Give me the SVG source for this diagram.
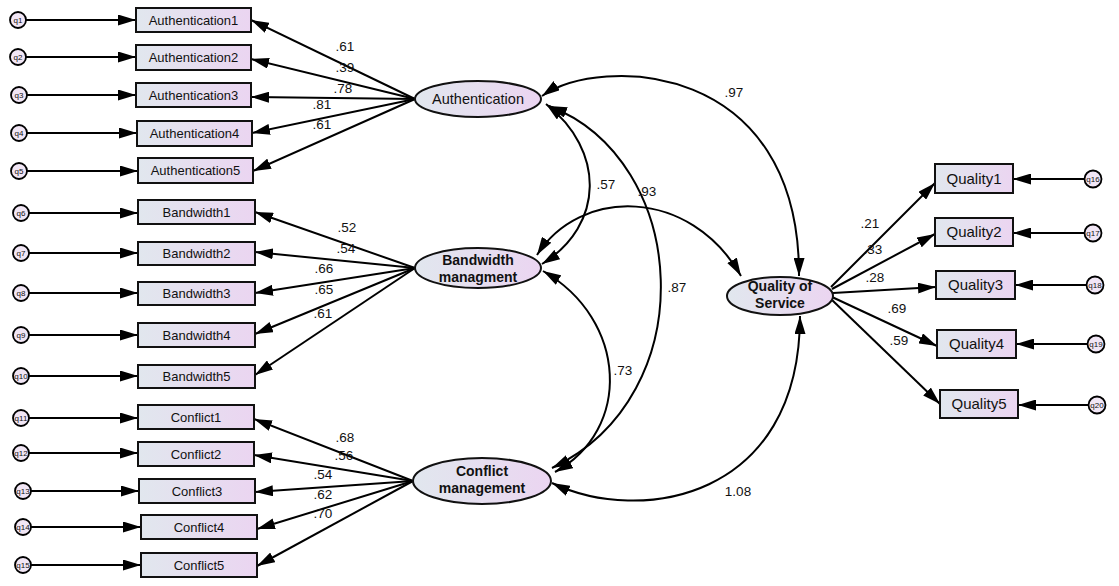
<svg xmlns="http://www.w3.org/2000/svg" width="1119" height="586" viewBox="0 0 1119 586">
<defs>
<linearGradient id="g" x1="0" y1="0" x2="1" y2="0">
<stop offset="0" stop-color="#e1e7ee"/>
<stop offset="1" stop-color="#ebd5f1"/>
</linearGradient>
<marker id="ah" viewBox="0 0 18 11" refX="18" refY="5.5" markerWidth="18" markerHeight="11" markerUnits="userSpaceOnUse" orient="auto-start-reverse">
<path d="M0,0 L18,5.5 L0,11 z" fill="#000"/>
</marker>
<style>
.box{fill:url(#g);stroke:#111;stroke-width:2}
.ell{fill:url(#g);stroke:#111;stroke-width:2}
.err{fill:#f1e6f5;stroke:#000;stroke-width:1.8}
.et{font-family:"Liberation Sans",Arial,sans-serif;font-size:8px;fill:#111;text-anchor:middle}
.bt{font-family:"Liberation Sans",Arial,sans-serif;font-size:13px;fill:#111;text-anchor:middle}
.qt{font-family:"Liberation Sans",Arial,sans-serif;font-size:15px;fill:#111;text-anchor:middle}
.lt{font-family:"Liberation Sans",Arial,sans-serif;font-size:14px;fill:#111;text-anchor:middle;font-weight:bold}
.at{font-family:"Liberation Sans",Arial,sans-serif;font-size:14.5px;fill:#111;text-anchor:middle}
.n{font-family:"Liberation Sans",Arial,sans-serif;font-size:13.5px;fill:#111;text-anchor:middle}
.a{fill:none;stroke:#000;stroke-width:2;marker-end:url(#ah)}
.d{fill:none;stroke:#000;stroke-width:2;marker-end:url(#ah);marker-start:url(#ah)}
</style>
</defs>

<g id="connectors">
<line class="a" x1="26" y1="20" x2="136" y2="20"/>
<line class="a" x1="26" y1="57" x2="136" y2="57"/>
<line class="a" x1="27" y1="95" x2="136" y2="95"/>
<line class="a" x1="27" y1="133" x2="137" y2="133"/>
<line class="a" x1="27" y1="171" x2="138" y2="171"/>
<line class="a" x1="29" y1="213" x2="138" y2="213"/>
<line class="a" x1="29" y1="253" x2="138" y2="253"/>
<line class="a" x1="29" y1="293" x2="138" y2="293"/>
<line class="a" x1="29" y1="335" x2="138" y2="335"/>
<line class="a" x1="29" y1="376" x2="138" y2="376"/>
<line class="a" x1="29" y1="418" x2="138" y2="418"/>
<line class="a" x1="29" y1="453" x2="138" y2="453"/>
<line class="a" x1="31" y1="491" x2="139" y2="491"/>
<line class="a" x1="31" y1="527" x2="141" y2="527"/>
<line class="a" x1="31" y1="565" x2="141" y2="565"/>
<line class="a" x1="1085" y1="179" x2="1013" y2="179"/>
<line class="a" x1="1085" y1="233" x2="1013" y2="233"/>
<line class="a" x1="1087" y1="285" x2="1015" y2="285"/>
<line class="a" x1="1088" y1="344" x2="1016" y2="344"/>
<line class="a" x1="1089" y1="405" x2="1018" y2="405"/>
<line class="a" x1="415" y1="99" x2="251" y2="20"/>
<line class="a" x1="415" y1="99" x2="251" y2="59"/>
<line class="a" x1="415" y1="99" x2="251" y2="97"/>
<line class="a" x1="415" y1="99" x2="252" y2="133"/>
<line class="a" x1="415" y1="99" x2="253" y2="171"/>
<line class="a" x1="415" y1="268" x2="255" y2="212"/>
<line class="a" x1="415" y1="268" x2="255" y2="252"/>
<line class="a" x1="415" y1="268" x2="255" y2="293"/>
<line class="a" x1="415" y1="268" x2="255" y2="334"/>
<line class="a" x1="415" y1="268" x2="255" y2="375"/>
<line class="a" x1="413" y1="481" x2="254" y2="419"/>
<line class="a" x1="413" y1="481" x2="254" y2="455"/>
<line class="a" x1="413" y1="481" x2="255" y2="492"/>
<line class="a" x1="413" y1="481" x2="257" y2="529"/>
<line class="a" x1="413" y1="481" x2="257" y2="566"/>
<line class="a" x1="831" y1="287" x2="935" y2="183"/>
<line class="a" x1="832" y1="289" x2="935" y2="234"/>
<line class="a" x1="833" y1="293" x2="936" y2="287"/>
<line class="a" x1="832" y1="297" x2="937" y2="346"/>
<line class="a" x1="831" y1="299" x2="940" y2="404"/>
<path class="d" d="M542,96 C600,55 800,60 799,276"/>
<path class="d" d="M546,104 C605,150 605,225 542,264"/>
<path class="d" d="M549,106 C690,160 705,395 552,468"/>
<path class="d" d="M537,255 C580,187 690,187 741,276"/>
<path class="d" d="M543,271 C628,320 632,430 555,472"/>
<path class="d" d="M552,483 C640,525 800,500 800,316"/>
</g>

<g id="labels">
<text class="n" x="345" y="51">.61</text>
<text class="n" x="345" y="72">.39</text>
<text class="n" x="343" y="93">.78</text>
<text class="n" x="322" y="109">.81</text>
<text class="n" x="322" y="129">.61</text>
<text class="n" x="347" y="232">.52</text>
<text class="n" x="346" y="253">.54</text>
<text class="n" x="324" y="273">.66</text>
<text class="n" x="324" y="294">.65</text>
<text class="n" x="323" y="318">.61</text>
<text class="n" x="345" y="442">.68</text>
<text class="n" x="344" y="460">.56</text>
<text class="n" x="323" y="479">.54</text>
<text class="n" x="323" y="499">.62</text>
<text class="n" x="323" y="518">.70</text>
<text class="n" x="870" y="228">.21</text>
<text class="n" x="873" y="254">.33</text>
<text class="n" x="875" y="282">.28</text>
<text class="n" x="897" y="313">.69</text>
<text class="n" x="899" y="345">.59</text>
<text class="n" x="734" y="97">.97</text>
<text class="n" x="606" y="189">.57</text>
<text class="n" x="647" y="196">.93</text>
<text class="n" x="677" y="292">.87</text>
<text class="n" x="623" y="375">.73</text>
<text class="n" x="738" y="496">1.08</text>
</g>

<g id="e1"><circle class="err" cx="18" cy="20" r="8"/><text class="et" x="18" y="23">q1</text></g>
<g id="e2"><circle class="err" cx="18" cy="57" r="8"/><text class="et" x="18" y="60">q2</text></g>
<g id="e3"><circle class="err" cx="19" cy="95" r="8"/><text class="et" x="19" y="98">q3</text></g>
<g id="e4"><circle class="err" cx="19" cy="133" r="8"/><text class="et" x="19" y="136">q4</text></g>
<g id="e5"><circle class="err" cx="19" cy="171" r="8"/><text class="et" x="19" y="174">q5</text></g>
<g id="e6"><circle class="err" cx="21" cy="213" r="8"/><text class="et" x="21" y="216">q6</text></g>
<g id="e7"><circle class="err" cx="21" cy="253" r="8"/><text class="et" x="21" y="256">q7</text></g>
<g id="e8"><circle class="err" cx="21" cy="293" r="8"/><text class="et" x="21" y="296">q8</text></g>
<g id="e9"><circle class="err" cx="21" cy="335" r="8"/><text class="et" x="21" y="338">q9</text></g>
<g id="e10"><circle class="err" cx="21" cy="376" r="8"/><text class="et" x="21" y="379">q10</text></g>
<g id="e11"><circle class="err" cx="21" cy="418" r="8"/><text class="et" x="21" y="421">q11</text></g>
<g id="e12"><circle class="err" cx="21" cy="453" r="8"/><text class="et" x="21" y="456">q12</text></g>
<g id="e13"><circle class="err" cx="23" cy="491" r="8"/><text class="et" x="23" y="494">q13</text></g>
<g id="e14"><circle class="err" cx="23" cy="527" r="8"/><text class="et" x="23" y="530">q14</text></g>
<g id="e15"><circle class="err" cx="23" cy="565" r="8"/><text class="et" x="23" y="568">q15</text></g>
<g id="e16"><circle class="err" cx="1093" cy="179" r="8.5"/><text class="et" x="1093" y="182">q16</text></g>
<g id="e17"><circle class="err" cx="1093" cy="233" r="8.5"/><text class="et" x="1093" y="236">q17</text></g>
<g id="e18"><circle class="err" cx="1095" cy="285" r="8.5"/><text class="et" x="1095" y="288">q18</text></g>
<g id="e19"><circle class="err" cx="1096" cy="344" r="8.5"/><text class="et" x="1096" y="347">q19</text></g>
<g id="e20"><circle class="err" cx="1097" cy="405" r="8.5"/><text class="et" x="1097" y="408">q20</text></g>

<g id="Authentication1"><rect class="box" x="136" y="8" width="115" height="24"/><text class="bt" x="193.5" y="25">Authentication1</text></g>
<g id="Authentication2"><rect class="box" x="136" y="45" width="115" height="25"/><text class="bt" x="193.5" y="62">Authentication2</text></g>
<g id="Authentication3"><rect class="box" x="136" y="83" width="115" height="24"/><text class="bt" x="193.5" y="100">Authentication3</text></g>
<g id="Authentication4"><rect class="box" x="137" y="121" width="115" height="25"/><text class="bt" x="194.5" y="138">Authentication4</text></g>
<g id="Authentication5"><rect class="box" x="138" y="158" width="115" height="25"/><text class="bt" x="195.5" y="175">Authentication5</text></g>

<g id="Bandwidth1"><rect class="box" x="138" y="200" width="117" height="24"/><text class="bt" x="196.5" y="217">Bandwidth1</text></g>
<g id="Bandwidth2"><rect class="box" x="138" y="242" width="117" height="23"/><text class="bt" x="196.5" y="258">Bandwidth2</text></g>
<g id="Bandwidth3"><rect class="box" x="138" y="282" width="117" height="23"/><text class="bt" x="196.5" y="298">Bandwidth3</text></g>
<g id="Bandwidth4"><rect class="box" x="138" y="323" width="117" height="24"/><text class="bt" x="196.5" y="340">Bandwidth4</text></g>
<g id="Bandwidth5"><rect class="box" x="138" y="365" width="117" height="23"/><text class="bt" x="196.5" y="381">Bandwidth5</text></g>

<g id="Conflict1"><rect class="box" x="138" y="405" width="116" height="24"/><text class="bt" x="196" y="422">Conflict1</text></g>
<g id="Conflict2"><rect class="box" x="138" y="442" width="116" height="24"/><text class="bt" x="196" y="459">Conflict2</text></g>
<g id="Conflict3"><rect class="box" x="139" y="479" width="116" height="24"/><text class="bt" x="197" y="496">Conflict3</text></g>
<g id="Conflict4"><rect class="box" x="141" y="515" width="116" height="24"/><text class="bt" x="199" y="532">Conflict4</text></g>
<g id="Conflict5"><rect class="box" x="141" y="553" width="116" height="24"/><text class="bt" x="199" y="570">Conflict5</text></g>

<g id="Quality1"><rect class="box" x="935" y="164" width="78" height="29"/><text class="qt" x="974" y="184">Quality1</text></g>
<g id="Quality2"><rect class="box" x="935" y="218" width="78" height="28"/><text class="qt" x="974" y="237">Quality2</text></g>
<g id="Quality3"><rect class="box" x="936" y="271" width="79" height="28"/><text class="qt" x="975.5" y="290">Quality3</text></g>
<g id="Quality4"><rect class="box" x="937" y="330" width="79" height="28"/><text class="qt" x="976.5" y="349">Quality4</text></g>
<g id="Quality5"><rect class="box" x="940" y="390" width="78" height="28"/><text class="qt" x="979" y="409">Quality5</text></g>

<g id="Authentication"><ellipse class="ell" cx="478" cy="99" rx="63" ry="18"/><text class="at" x="478" y="104">Authentication</text></g>
<g id="BandwidthManagment"><ellipse class="ell" cx="478" cy="268" rx="63" ry="20"/><text class="lt" x="478" y="265">Bandwidth</text><text class="lt" x="478" y="282">managment</text></g>
<g id="ConflictManagement"><ellipse class="ell" cx="482" cy="481" rx="69" ry="23"/><text class="lt" x="482" y="476">Conflict</text><text class="lt" x="482" y="493">management</text></g>
<g id="QualityOfService"><ellipse class="ell" cx="780" cy="296" rx="53" ry="19"/><text class="lt" x="780" y="291">Quality of</text><text class="lt" x="780" y="308">Service</text></g>
</svg>
